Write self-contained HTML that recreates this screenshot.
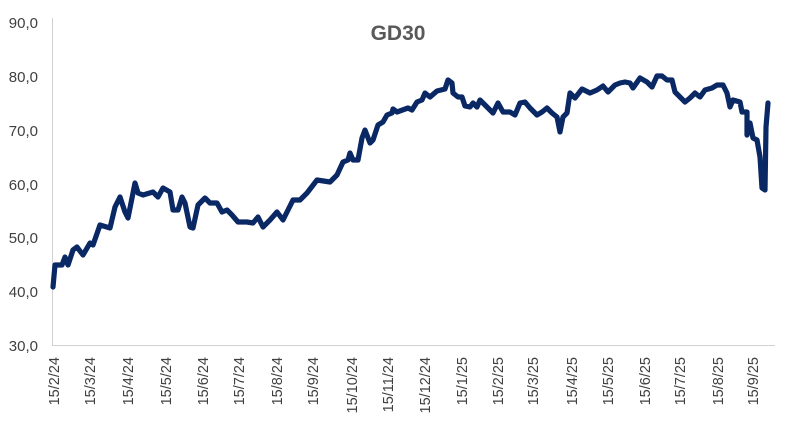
<!DOCTYPE html>
<html><head><meta charset="utf-8"><style>
body{margin:0;background:#fff;}
svg{display:block;font-family:"Liberation Sans",sans-serif;}
</style></head><body>
<svg width="787" height="441" viewBox="0 0 787 441">
<rect width="787" height="441" fill="#fff"/>
<text x="398" y="40" text-anchor="middle" font-size="21" font-weight="bold" fill="#595959">GD30</text>
<g font-size="15" fill="#404040" text-anchor="end">
<text x="38" y="28">90,0</text>
<text x="38" y="82">80,0</text>
<text x="38" y="136">70,0</text>
<text x="38" y="190">60,0</text>
<text x="38" y="243">50,0</text>
<text x="38" y="297">40,0</text>
<text x="38" y="351">30,0</text>
</g>
<line x1="52.5" y1="18" x2="52.5" y2="345" stroke="#d0d0d0" stroke-width="1"/>
<line x1="52" y1="345.5" x2="775" y2="345.5" stroke="#d0d0d0" stroke-width="1"/>
<g font-size="14.5" fill="#404040" text-anchor="end">
<text transform="translate(59,357) rotate(-90)">15/2/24</text>
<text transform="translate(95,357) rotate(-90)">15/3/24</text>
<text transform="translate(133,357) rotate(-90)">15/4/24</text>
<text transform="translate(171,357) rotate(-90)">15/5/24</text>
<text transform="translate(208,357) rotate(-90)">15/6/24</text>
<text transform="translate(244,357) rotate(-90)">15/7/24</text>
<text transform="translate(282,357) rotate(-90)">15/8/24</text>
<text transform="translate(318,357) rotate(-90)">15/9/24</text>
<text transform="translate(357,357) rotate(-90)">15/10/24</text>
<text transform="translate(393,357) rotate(-90)">15/11/24</text>
<text transform="translate(430,357) rotate(-90)">15/12/24</text>
<text transform="translate(467,357) rotate(-90)">15/1/25</text>
<text transform="translate(503,357) rotate(-90)">15/2/25</text>
<text transform="translate(538,357) rotate(-90)">15/3/25</text>
<text transform="translate(577,357) rotate(-90)">15/4/25</text>
<text transform="translate(613,357) rotate(-90)">15/5/25</text>
<text transform="translate(650,357) rotate(-90)">15/6/25</text>
<text transform="translate(685,357) rotate(-90)">15/7/25</text>
<text transform="translate(723,357) rotate(-90)">15/8/25</text>
<text transform="translate(758,357) rotate(-90)">15/9/25</text>
</g>
<polyline fill="none" stroke="#0a2864" stroke-width="5.2" stroke-linejoin="round" stroke-linecap="round" points="
53,287 55,265 62,265 65,257 68,265 73,250 77,247 83,255 90,243 93,245 100,225 110,228 115,207 120,197 125,212 128,218 135,183 138,193 143,195 153,192 158,197 163,188 170,192 173,210 178,210 182,197 185,203 190,227 193,228 198,205 205,198 210,203 217,203 222,212 227,210 232,215 238,222 247,222 253,223 258,217 263,227 270,220 277,212 283,220 293,200 300,200 307,193 317,180 330,182 337,175 343,162 348,160 350,153 353,160 358,160 362,138 365,130 370,143 373,140 378,125 383,122 387,115 392,113 393,109 397,112 408,108 412,110 417,102 422,100 425,93 430,97 437,91 445,89 448,80 452,83 453,93 458,97 462,97 465,106 470,107 473,103 477,107 480,100 487,107 493,113 498,103 503,112 510,112 515,115 520,103 525,102 530,108 537,115 542,112 547,108 552,113 557,117 560,132 563,117 567,113 570,93 575,98 582,89 590,93 597,90 603,86 608,92 615,85 620,83 625,82 630,83 633,88 640,78 647,82 652,87 657,76 662,76 667,80 672,80 675,92 680,97 685,102 690,98 695,93 700,97 705,90 712,88 717,85 723,85 727,93 730,107 733,100 740,102 742,112 747,112 747,135 750,123 753,138 757,140 760,157 762,188 765,190 766,127 768,103"/>
</svg>
</body></html>
